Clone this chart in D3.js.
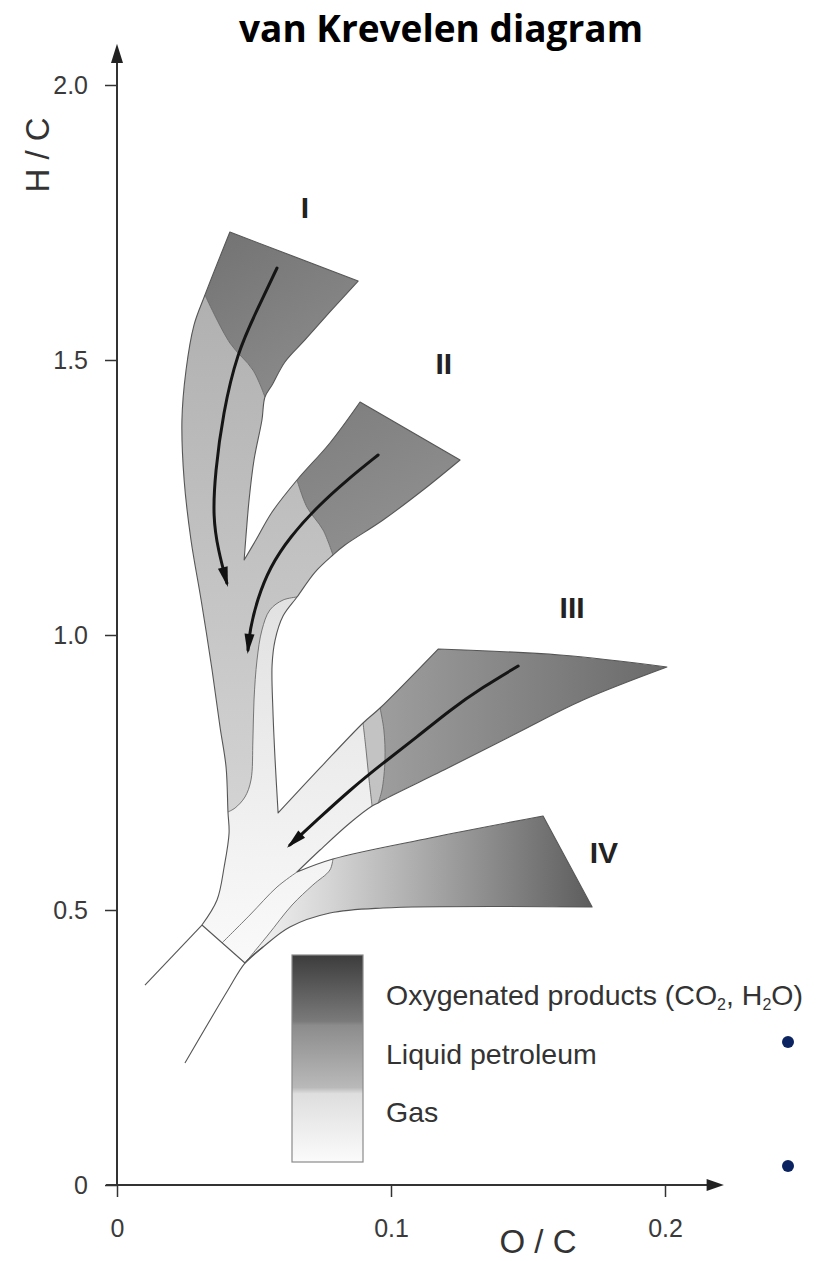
<!DOCTYPE html>
<html>
<head>
<meta charset="utf-8">
<script src="https://cdn.jsdelivr.net/npm/d3@7"></script>
<style>
  body { margin: 0; background: #fff; }
  svg { display: block; }
</style>
</head>
<body>
<svg id="chart" width="818" height="1261"></svg>
<script>
// ticks
const xTicks = [0, 0.1, 0.2];
const yTicks = [0, 0.5, 1.0, 1.5, 2.0];

// kerogen "tree" edges, [O/C, H/C]
const topI = [[0.0412,1.7327],[0.0880,1.6436]];
const rightI_dark = [[0.0880,1.6436],[0.0777,1.5873],[0.0686,1.5364],[0.0613,1.4964],[0.0566,1.4545],[0.0540,1.4327]];
const rightI_liq = [[0.0540,1.4327],[0.0529,1.3909],[0.0500,1.3182],[0.0482,1.2455],[0.0471,1.1818],[0.0464,1.1364]];
const upperII_liq = [[0.0464,1.1364],[0.0507,1.1727],[0.0566,1.2236],[0.0657,1.2818]];
const upperII_dark = [[0.0657,1.2818],[0.0777,1.3491],[0.0887,1.4236]];
const topII = [[0.0887,1.4236],[0.1252,1.3182]];
const lowerII_dark = [[0.1252,1.3182],[0.1117,1.2636],[0.0971,1.2091],[0.0832,1.1636],[0.0788,1.1455]];
const lowerII_liq = [[0.0788,1.1455],[0.0723,1.1145],[0.0657,1.0691]];
const stemRight = [[0.0657,1.0691],[0.0606,1.0345],[0.0577,0.9909],[0.0566,0.9455],[0.0569,0.8636],[0.0577,0.7727],[0.0588,0.6764]];
const upperIII_gas = [[0.0588,0.6764],[0.0741,0.7582],[0.0898,0.8400]];
const upperIII_liq = [[0.0898,0.8400],[0.0960,0.8673]];
const upperIII_dark = [[0.0960,0.8673],[0.1172,0.9745]];
const topIII = [[0.1172,0.9745],[0.1617,0.9636],[0.2007,0.9418]];
const lowerIII_dark = [[0.2007,0.9418],[0.1701,0.8818],[0.1460,0.8218],[0.1215,0.7600],[0.0971,0.7000],[0.0953,0.6945]];
const lowerIII_liq = [[0.0953,0.6945],[0.0931,0.6891]];
const lowerIII_gas = [[0.0931,0.6891],[0.0850,0.6582],[0.0741,0.6091],[0.0657,0.5691]];
const topIV_band = [[0.0657,0.5691],[0.0788,0.5927]];
const topIV_main = [[0.0788,0.5927],[0.1142,0.6309],[0.1555,0.6709]];
const rightIV = [[0.1555,0.6709],[0.1734,0.5055]];
const bottomIV = [[0.1734,0.5055],[0.0971,0.5036],[0.0777,0.4945],[0.0631,0.4691],[0.0533,0.4327],[0.0467,0.4036]];
const cutLine = [[0.0467,0.4036],[0.0310,0.4727]];
const leftEdgeLow = [[0.0310,0.4727],[0.0365,0.5182],[0.0391,0.5782],[0.0409,0.6400],[0.0405,0.6782]];
const leftEdgeMid = [[0.0405,0.6782],[0.0398,0.7600],[0.0376,0.8327],[0.0347,0.9364],[0.0307,1.0636],[0.0270,1.1727],[0.0245,1.2818],[0.0237,1.3909],[0.0252,1.4818],[0.0281,1.5636],[0.0321,1.6182]];
const leftEdgeTop = [[0.0321,1.6182],[0.0412,1.7327]];

// inner boundaries between gas / liquid / oxygenated zones
const darkBoundI = [[0.0321,1.6182],[0.0412,1.5309],[0.0496,1.4818],[0.0540,1.4327]];
const darkBoundII = [[0.0657,1.2818],[0.0693,1.2327],[0.0752,1.1909],[0.0788,1.1455]];
const gasBound = [[0.0657,1.0691],[0.0606,1.0636],[0.0558,1.0455],[0.0529,1.0091],[0.0511,0.9545],[0.0500,0.8818],[0.0496,0.8091],[0.0489,0.7364],[0.0467,0.7055],[0.0431,0.6855],[0.0405,0.6782]];
const bandIII_a = [[0.0898,0.8400],[0.0909,0.7909],[0.0920,0.7364],[0.0931,0.6891]];
const bandIII_b = [[0.0960,0.8673],[0.0974,0.8273],[0.0978,0.7727],[0.0967,0.7182],[0.0953,0.6945]];
const stemLower = [[0.0657,0.5691],[0.0584,0.5418],[0.0485,0.4909],[0.0383,0.4400]];
const bandIV = [[0.0467,0.4036],[0.0551,0.4545],[0.0639,0.5091],[0.0715,0.5455],[0.0777,0.5727],[0.0788,0.5927]];
const tailLeft = [[0.0310,0.4727],[0.0102,0.3636]];
const tailRight = [[0.0533,0.4327],[0.0467,0.4036],[0.0405,0.3545],[0.0248,0.2218]];

// maturation paths
const arrowI = [[0.0584,1.6673],[0.0511,1.5909],[0.0438,1.5127],[0.0387,1.4036],[0.0358,1.2945],[0.0350,1.2145],[0.0369,1.1545],[0.0401,1.0945]];
const arrowII = [[0.0953,1.3273],[0.0839,1.2818],[0.0730,1.2327],[0.0631,1.1782],[0.0558,1.1236],[0.0511,1.0636],[0.0485,1.0091],[0.0478,0.9727]];
const arrowIII = [[0.1464,0.9436],[0.1336,0.9055],[0.1215,0.8636],[0.1095,0.8145],[0.0971,0.7673],[0.0850,0.7182],[0.0730,0.6636],[0.0631,0.6182]];

const romanLabels = ['I', 'II', 'III', 'IV'];
const romanAt = [[0.0686,1.778],[0.1193,1.4945],[0.1661,1.0509],[0.1777,0.6055]];
const legendLabels = ['Oxygenated products (CO_2, H_2O)', 'Liquid petroleum', 'Gas'];

const svg = d3.select('#chart');
const x = d3.scaleLinear().domain([0, 0.2]).range([117, 665]);
const y = d3.scaleLinear().domain([0, 2]).range([1185, 85]);

const curve = d3.line().x(d => x(d[0])).y(d => y(d[1])).curve(d3.curveCatmullRom.alpha(0.5));
const rev = a => a.slice().reverse();
const join = (...arrs) => arrs.reduce((acc, a) => acc.concat(acc.length ? a.slice(1) : a), []);
function shape(segs, closed = true) {
  const s = segs.map((p, i) => { const d = curve(p); return i ? 'L' + d.slice(1) : d; }).join('');
  return closed ? s + 'Z' : s;
}

const defs = svg.append('defs');
function grad(id, x1, y1, x2, y2, stops) {
  const g = defs.append('linearGradient').attr('id', id).attr('gradientUnits', 'userSpaceOnUse')
    .attr('x1', x1).attr('y1', y1).attr('x2', x2).attr('y2', y2);
  stops.forEach(s => g.append('stop').attr('offset', s[0]).attr('stop-color', s[1]));
}
grad('gGas', 0, y(1.1), 0, y(0.4), [[0, '#e0e0e0'], [1, '#fafafa']]);
grad('gLiq', 0, y(1.65), 0, y(0.68), [[0, '#afafaf'], [1, '#d3d3d3']]);
grad('gDarkI', x(0.04), y(1.73), x(0.075), y(1.45), [[0, '#747474'], [1, '#8c8c8c']]);
grad('gDarkII', x(0.088), y(1.42), x(0.11), y(1.2), [[0, '#808080'], [1, '#8f8f8f']]);
grad('gDarkIII', x(0.095), 0, x(0.2), 0, [[0, '#9e9e9e'], [1, '#6a6a6a']]);
grad('gIV', x(0.046), 0, x(0.174), 0, [[0, '#f7f7f7'], [0.25, '#d4d4d4'], [1, '#5c5c5c']]);
grad('gLegend', 0, 955, 0, 1162, [[0, '#3c3c3c'], [0.32, '#7a7a7a'], [0.34, '#8c8c8c'], [0.64, '#b9b9b9'], [0.67, '#dedede'], [1, '#fbfbfb']]);

const outline = shape([
  topI, join(rightI_dark, rightI_liq), join(upperII_liq, upperII_dark), topII,
  join(lowerII_dark, lowerII_liq, stemRight), join(upperIII_gas, upperIII_liq, upperIII_dark), topIII,
  join(lowerIII_dark, lowerIII_liq, lowerIII_gas), join(topIV_band, topIV_main), rightIV, bottomIV, cutLine,
  join(leftEdgeLow, leftEdgeMid, leftEdgeTop)
]);

defs.append('clipPath').attr('id', 'treeClip').append('path').attr('d', outline);

svg.append('path').attr('d', outline).attr('fill', 'url(#gGas)');

const zones = svg.append('g').attr('clip-path', 'url(#treeClip)');
zones.append('path').attr('fill', 'url(#gLiq)')
  .attr('d', shape([darkBoundI, rightI_liq, upperII_liq, darkBoundII, lowerII_liq, gasBound, leftEdgeMid]));
zones.append('path').attr('fill', 'url(#gDarkI)')
  .attr('d', shape([topI, rightI_dark, rev(darkBoundI), leftEdgeTop]));
zones.append('path').attr('fill', 'url(#gDarkII)')
  .attr('d', shape([upperII_dark, topII, lowerII_dark, rev(darkBoundII)]));
zones.append('path').attr('fill', '#c3c3c3')
  .attr('d', shape([upperIII_liq, bandIII_b, lowerIII_liq, rev(bandIII_a)]));
zones.append('path').attr('fill', 'url(#gDarkIII)')
  .attr('d', shape([upperIII_dark, topIII, lowerIII_dark, rev(bandIII_b)]));
zones.append('path').attr('fill', 'url(#gIV)')
  .attr('d', shape([bandIV, topIV_main, rightIV, bottomIV]));

// inner lines
[darkBoundI, darkBoundII, gasBound, bandIII_a, bandIII_b, stemLower, bandIV].forEach(l => {
  svg.append('path').attr('d', shape([l], false)).attr('fill', 'none')
    .attr('stroke', '#6a6a6a').attr('stroke-width', 0.9);
});
svg.append('path').attr('d', outline).attr('fill', 'none').attr('stroke', '#555').attr('stroke-width', 1.1)
  .attr('stroke-linejoin', 'round');
[tailLeft, tailRight].forEach(l => {
  svg.append('path').attr('d', shape([l], false)).attr('fill', 'none')
    .attr('stroke', '#555').attr('stroke-width', 1.1);
});

// arrows
defs.append('marker').attr('id', 'head').attr('markerUnits', 'userSpaceOnUse')
  .attr('viewBox', '-20 -8 26 16').attr('refX', 0).attr('refY', 0)
  .attr('markerWidth', 26).attr('markerHeight', 16).attr('orient', 'auto')
  .append('path').attr('d', 'M-16,-5L4,0L-16,5Z').attr('fill', '#111');
[arrowI, arrowII, arrowIII].forEach(a => {
  svg.append('path').attr('d', d3.line().x(d => x(d[0])).y(d => y(d[1])).curve(d3.curveBasis)(a))
    .attr('fill', 'none').attr('stroke', '#151515').attr('stroke-width', 3)
    .attr('stroke-linecap', 'round').attr('marker-end', 'url(#head)');
});

// roman numerals
svg.append('g').selectAll('text').data(romanLabels).join('text')
  .attr('x', (d, i) => x(romanAt[i][0])).attr('y', (d, i) => y(romanAt[i][1]))
  .attr('dy', '0.36em').attr('text-anchor', 'middle')
  .attr('font-family', 'Liberation Sans, Arial, sans-serif').attr('font-weight', 700)
  .attr('font-size', 30).attr('fill', '#222').text(d => d);

// legend
svg.append('rect').attr('x', 292).attr('y', 955).attr('width', 71).attr('height', 207)
  .attr('fill', 'url(#gLegend)').attr('stroke', '#8a8a8a').attr('stroke-width', 1.2);
svg.append('g').selectAll('text').data(legendLabels).join('text')
  .attr('x', 386).attr('y', (d, i) => 1005 + i * 58.5)
  .attr('font-family', 'Liberation Sans, Arial, sans-serif').attr('font-size', 28.5).attr('fill', '#333')
  .each(function(d) {
    const t = d3.select(this);
    let shift = 0;
    d.split(/(_2)/).filter(p => p).forEach(part => {
      if (part === '_2') { t.append('tspan').attr('font-size', 16).attr('dy', 5).text('2'); shift = -5; }
      else { t.append('tspan').attr('dy', shift).text(part); shift = 0; }
    });
  });

// axes
const axisFont = g => g.attr('font-family', 'Liberation Sans, Arial, sans-serif').attr('font-size', 25);
svg.append('g').attr('transform', `translate(${x(0)},0)`)
  .call(d3.axisLeft(y).tickValues(yTicks).tickSize(12).tickPadding(17)
    .tickFormat(d => d === 0 ? '0' : d3.format('.1f')(d)))
  .call(axisFont)
  .call(g => g.select('.domain').remove())
  .call(g => g.selectAll('line').attr('stroke', '#333').attr('stroke-width', 1.5))
  .call(g => g.selectAll('text').attr('fill', '#3a3a3a'));
svg.append('g').attr('transform', `translate(0,${y(0)})`)
  .call(d3.axisBottom(x).tickValues(xTicks).tickSize(12).tickPadding(22)
    .tickFormat(d => d === 0 ? '0' : d3.format('.1f')(d)))
  .call(axisFont)
  .call(g => g.select('.domain').remove())
  .call(g => g.selectAll('line').attr('stroke', '#333').attr('stroke-width', 1.5))
  .call(g => g.selectAll('text').attr('fill', '#3a3a3a'));

svg.append('line').attr('x1', x(0)).attr('x2', x(0)).attr('y1', y(0)).attr('y2', y(2.06))
  .attr('stroke', '#333').attr('stroke-width', 2);
svg.append('line').attr('x1', x(-0.004)).attr('x2', x(0.216)).attr('y1', y(0)).attr('y2', y(0))
  .attr('stroke', '#333').attr('stroke-width', 2);
svg.append('path').attr('fill', '#222')
  .attr('d', `M${x(0)},${y(2.075)}L${x(0) - 6},${y(2.04)}L${x(0) + 6},${y(2.04)}Z`);
svg.append('path').attr('fill', '#222')
  .attr('d', `M${x(0.2215)},${y(0)}L${x(0.2152)},${y(0) - 6}L${x(0.2152)},${y(0) + 6}Z`);

svg.append('text').attr('x', 538).attr('y', 1253).attr('text-anchor', 'middle')
  .attr('font-family', 'Liberation Sans, Arial, sans-serif').attr('font-size', 33).attr('fill', '#333')
  .text('O / C');
svg.append('text').attr('transform', 'translate(49,155) rotate(-90)').attr('text-anchor', 'middle')
  .attr('font-family', 'Liberation Sans, Arial, sans-serif').attr('font-size', 33).attr('fill', '#333')
  .text('H / C');

svg.append('text').attr('x', 441).attr('y', 42).attr('text-anchor', 'middle')
  .attr('font-family', 'Open Sans, sans-serif').attr('font-weight', 700).attr('font-size', 37)
  .attr('fill', '#000').text('van Krevelen diagram');

// stray bullets from the slide
svg.append('g').selectAll('circle').data([0, 1]).join('circle')
  .attr('cx', 788).attr('cy', d => 1042 + d * 124).attr('r', 6).attr('fill', '#0b2461');
</script>
</body>
</html>
